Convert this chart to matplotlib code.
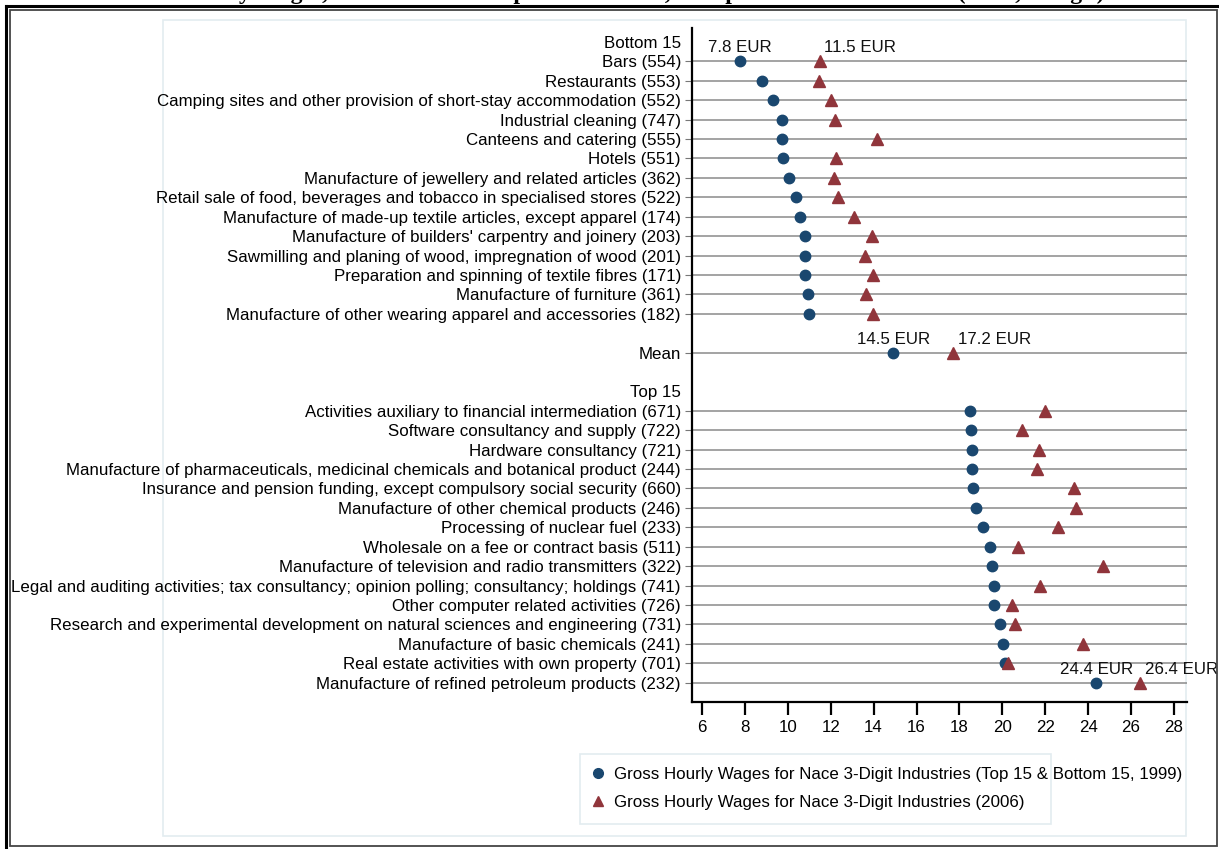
import matplotlib
matplotlib.use("Agg")
import matplotlib.pyplot as plt
from matplotlib.patches import Rectangle
from matplotlib.lines import Line2D

plt.rcParams['font.family'] = ['Liberation Sans', 'DejaVu Sans']

# data (EUR per hour)
bottom_labels = [
    "Bars (554)",
    "Restaurants (553)",
    "Camping sites and other provision of short-stay accommodation (552)",
    "Industrial cleaning (747)",
    "Canteens and catering (555)",
    "Hotels (551)",
    "Manufacture of jewellery and related articles (362)",
    "Retail sale of food, beverages and tobacco in specialised stores (522)",
    "Manufacture of made-up textile articles, except apparel (174)",
    "Manufacture of builders' carpentry and joinery (203)",
    "Sawmilling and planing of wood, impregnation of wood (201)",
    "Preparation and spinning of textile fibres (171)",
    "Manufacture of furniture (361)",
    "Manufacture of other wearing apparel and accessories (182)",
]
bottom_1999 = [7.78, 8.78, 9.31, 9.71, 9.71, 9.76, 10.07, 10.36, 10.59, 10.81, 10.79, 10.81, 10.92, 11.0]
bottom_2006 = [11.48, 11.45, 11.99, 12.19, 14.17, 12.23, 12.14, 12.33, 13.09, 13.93, 13.6, 13.95, 13.63, 13.95]

mean_1999 = 14.91
mean_2006 = 17.7

top_labels = [
    "Activities auxiliary to financial intermediation (671)",
    "Software consultancy and supply (722)",
    "Hardware consultancy (721)",
    "Manufacture of pharmaceuticals, medicinal chemicals and botanical product (244)",
    "Insurance and pension funding, except compulsory social security (660)",
    "Manufacture of other chemical products (246)",
    "Processing of nuclear fuel (233)",
    "Wholesale on a fee or contract basis (511)",
    "Manufacture of television and radio transmitters (322)",
    "Legal and auditing activities; tax consultancy; opinion polling; consultancy; holdings (741)",
    "Other computer related activities (726)",
    "Research and experimental development on natural sciences and engineering (731)",
    "Manufacture of basic chemicals (241)",
    "Real estate activities with own property (701)",
    "Manufacture of refined petroleum products (232)",
]
top_1999 = [18.51, 18.53, 18.59, 18.59, 18.64, 18.78, 19.09, 19.42, 19.54, 19.59, 19.62, 19.87, 20.04, 20.12, 24.39]
top_2006 = [22.0, 20.93, 21.71, 21.63, 23.36, 23.45, 22.61, 20.74, 24.7, 21.77, 20.45, 20.59, 23.76, 20.27, 26.44]

x_ticks = [6, 8, 10, 12, 14, 16, 18, 20, 22, 24, 26, 28]

legend_1999 = "Gross Hourly Wages for Nace 3-Digit Industries (Top 15 & Bottom 15, 1999)"
legend_2006 = "Gross Hourly Wages for Nace 3-Digit Industries (2006)"

NAVY = '#1a476f'
MAROON = '#90353b'
FS = 12.2

# row layout: header, bottom rows, gap, mean, gap, header, top rows
nb = len(bottom_labels)
bottom_y = list(range(1, nb + 1))
mean_y = nb + 2
top_header_y = mean_y + 2
top_y = list(range(top_header_y + 1, top_header_y + 1 + len(top_labels)))

W, H = 1219, 849
fig = plt.figure(figsize=(W / 100, H / 100), dpi=100)

def px(x0, y0, x1, y1):
    # pixel box -> figure fraction [l, b, w, h]
    return [x0 / W, 1 - y1 / H, (x1 - x0) / W, (y1 - y0) / H]

ax = fig.add_axes(px(692, 28, 1187, 702))
ax.set_xlim(5.533, 28.61)
ax.set_ylim(top_y[-1] + 1.0, -0.72)
ax.patch.set_alpha(0)

data_rows = bottom_y + [mean_y] + top_y
for r in data_rows:
    ax.axhline(r, color='#8a8a8a', lw=1.1, zorder=1)

ax.plot(bottom_1999, bottom_y, 'o', color=NAVY, ms=7.5, zorder=3)
ax.plot(bottom_2006, bottom_y, '^', color=MAROON, ms=8, zorder=3)
ax.plot([mean_1999], [mean_y], 'o', color=NAVY, ms=7.5, zorder=3)
ax.plot([mean_2006], [mean_y], '^', color=MAROON, ms=8, zorder=3)
ax.plot(top_1999, top_y, 'o', color=NAVY, ms=7.5, zorder=3)
ax.plot(top_2006, top_y, '^', color=MAROON, ms=8, zorder=3)

# value labels
ann = [
    (bottom_1999[0], bottom_y[0], "7.8 EUR", 'center', 0),
    (bottom_2006[0], bottom_y[0], "11.5 EUR", 'left', 3.5),
    (mean_1999, mean_y, "14.5 EUR", 'center', 0),
    (mean_2006, mean_y, "17.2 EUR", 'left', 3.5),
    (top_1999[-1], top_y[-1], "24.4 EUR", 'center', 0),
    (top_2006[-1], top_y[-1], "26.4 EUR", 'left', 3.5),
]
for xv, yv, s, ha, dx in ann:
    ax.annotate(s, (xv, yv), xytext=(dx, 6.5), textcoords='offset points',
                ha=ha, va='baseline', fontsize=FS, color='#111111',
                annotation_clip=False)

yt = [0] + bottom_y + [mean_y, top_header_y] + top_y
yl = ["Bottom 15"] + bottom_labels + ["Mean", "Top 15"] + top_labels
ax.set_yticks(yt)
ax.set_yticklabels(yl, fontsize=FS)
ax.tick_params(axis='y', length=5, width=0.8, color='#777777', pad=3)
for t, lab in zip(ax.yaxis.get_major_ticks(), yl):
    if lab in ("Bottom 15", "Top 15"):
        t.tick1line.set_visible(False)

ax.set_xticks(x_ticks)
ax.set_xticklabels([str(v) for v in x_ticks], fontsize=FS)
ax.tick_params(axis='x', length=9, width=1.6, color='black', pad=4)

for s in ('top', 'right'):
    ax.spines[s].set_visible(False)
ax.spines['left'].set_linewidth(1.6)
ax.spines['bottom'].set_linewidth(1.6)

# legend
h1 = Line2D([], [], marker='o', ls='none', color=NAVY, ms=7)
h2 = Line2D([], [], marker='^', ls='none', color=MAROON, ms=7.5)
fig.legend([h1, h2], [legend_1999, legend_2006], loc='upper left',
           bbox_to_anchor=(591 / W, 1 - 767 / H), frameon=False, fontsize=FS,
           handlelength=0.8, handletextpad=0.55, labelspacing=0.75,
           borderaxespad=0, borderpad=0)
fig.patches.append(Rectangle((580 / W, 1 - 824 / H), 471 / W, 70 / H,
                             transform=fig.transFigure, fill=False,
                             edgecolor='#e3ecf0', lw=1.2, zorder=-1))

# plot region box and outer frames
fig.patches.append(Rectangle((163 / W, 1 - 836 / H), 1023 / W, 816 / H,
                             transform=fig.transFigure, fill=False,
                             edgecolor='#e3ecf0', lw=1.2, zorder=-1))
fig.patches.append(Rectangle((10 / W, 1 - 846 / H), 1207 / W, 836 / H,
                             transform=fig.transFigure, fill=False,
                             edgecolor='#444444', lw=1.3))
fig.add_artist(Line2D([6 / W, 6 / W], [0, 1 - 6 / H], transform=fig.transFigure,
                      color='black', lw=2.2))
fig.add_artist(Line2D([6 / W, 1], [1 - 6 / H, 1 - 6 / H], transform=fig.transFigure,
                      color='black', lw=2.2))

# title sits mostly above the visible area (cut off in the original too)
fig.text(0.5, 1 + 1.5 / H, "Gross Hourly Wages, Bottom 15 and Top 15 Industries, Comparison 1999 and 2006 (Nace, 3-Digit)",
         ha='center', va='baseline', fontsize=17, fontweight='bold',
         family=['Liberation Serif', 'DejaVu Serif'])

fig.savefig("out.png", dpi=100)
